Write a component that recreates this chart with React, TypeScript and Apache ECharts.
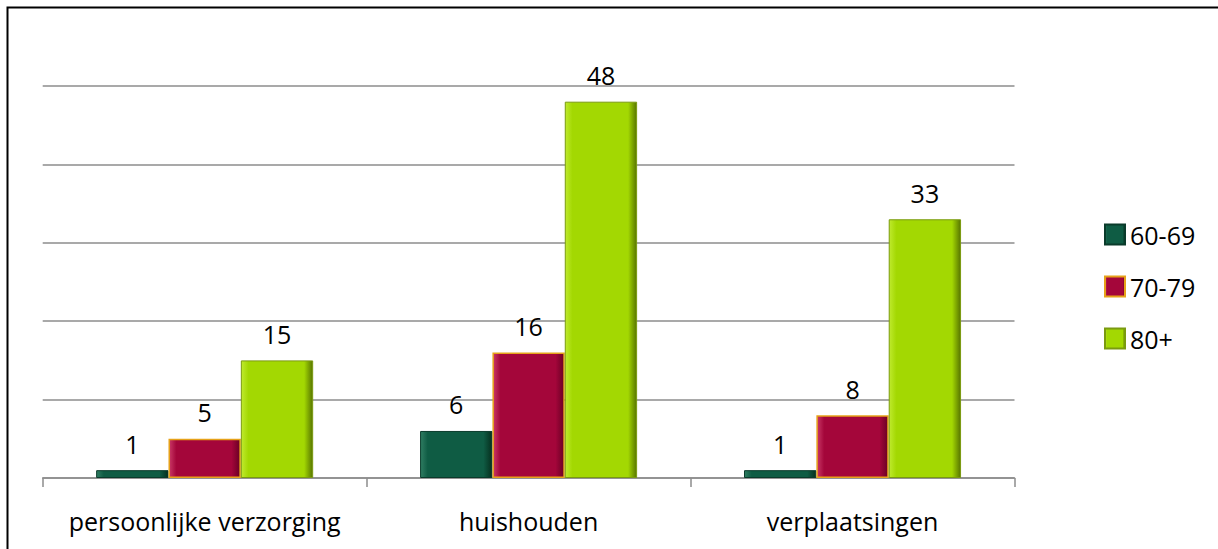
import React, { useEffect, useRef } from "react";
import * as echarts from "echarts";

const categories = ["persoonlijke verzorging", "huishouden", "verplaatsingen"];
const seriesNames = ["60-69", "70-79", "80+"];
const values6069 = [1, 6, 1];
const values7079 = [5, 16, 8];
const values80 = [15, 48, 33];
const yTicks = { min: 0, max: 50, interval: 10 };

const FONT = "'Open Sans', sans-serif";

function grad(light: string, main: string, dark: string) {
  return new echarts.graphic.LinearGradient(0, 0, 1, 0, [
    { offset: 0, color: light },
    { offset: 0.1, color: main },
    { offset: 0.88, color: main },
    { offset: 1, color: dark },
  ]);
}

export default function App() {
  const ref = useRef<HTMLDivElement>(null);
  useEffect(() => {
    if (!ref.current) return;
    const chart = echarts.init(ref.current, undefined, { renderer: "svg" });
    const label = {
      show: true,
      position: "top" as const,
      distance: 14,
      color: "#000",
      fontSize: 25,
      fontFamily: FONT,
    };
    chart.setOption({
      animation: false,
      backgroundColor: "#fff",
      graphic: [
        {
          type: "polyline",
          shape: { points: [[7.5, 560], [7.5, 7.5], [1230, 7.5]] },
          style: { stroke: "#000", lineWidth: 2, fill: null },
          silent: true,
        },
      ],
      grid: { left: 42.7, right: 203.5, top: 86, bottom: 71, containLabel: false },
      legend: {
        orient: "vertical",
        left: 1099,
        top: 217,
        itemWidth: 20,
        itemHeight: 20,
        itemGap: 27,
        icon: "rect",
        textStyle: { fontSize: 25, fontFamily: FONT, color: "#000" },
        data: seriesNames,
      },
      xAxis: {
        type: "category",
        data: categories,
        axisLine: { show: true, lineStyle: { color: "#8c8c8c", width: 1.5 } },
        axisTick: { show: true, length: 9, lineStyle: { color: "#8c8c8c", width: 1.5 } },
        axisLabel: { interval: 0, fontSize: 25, fontFamily: FONT, color: "#000", margin: 30 },
      },
      yAxis: {
        type: "value",
        min: yTicks.min,
        max: yTicks.max,
        interval: yTicks.interval,
        axisLine: { show: false },
        axisTick: { show: false },
        axisLabel: { show: false },
        splitLine: { show: true, lineStyle: { color: "#8c8c8c", width: 1.5 } },
      },
      series: [
        {
          name: seriesNames[0],
          type: "bar",
          data: values6069,
          barGap: "0%",
          barCategoryGap: "33%",
          label,
          itemStyle: {
            color: grad("#2f7d62", "#0f5c44", "#06301f"),
            borderColor: "#0a3b2b",
            borderWidth: 1,
          },
        },
        {
          name: seriesNames[1],
          type: "bar",
          data: values7079,
          barGap: "0%",
          barCategoryGap: "33%",
          label,
          itemStyle: {
            color: grad("#c93866", "#a4063a", "#6a0024"),
            borderColor: "#e6a21a",
            borderWidth: 1.5,
          },
        },
        {
          name: seriesNames[2],
          type: "bar",
          data: values80,
          barGap: "0%",
          barCategoryGap: "33%",
          label,
          itemStyle: {
            color: grad("#bfea2e", "#a3d802", "#587600"),
            borderColor: "#7a9a10",
            borderWidth: 1,
          },
        },
      ],
    });
    return () => chart.dispose();
  }, []);
  return (
    <div
      ref={ref}
      style={{ position: "fixed", left: 0, top: 0, width: 1218, height: 549 }}
    />
  );
}
